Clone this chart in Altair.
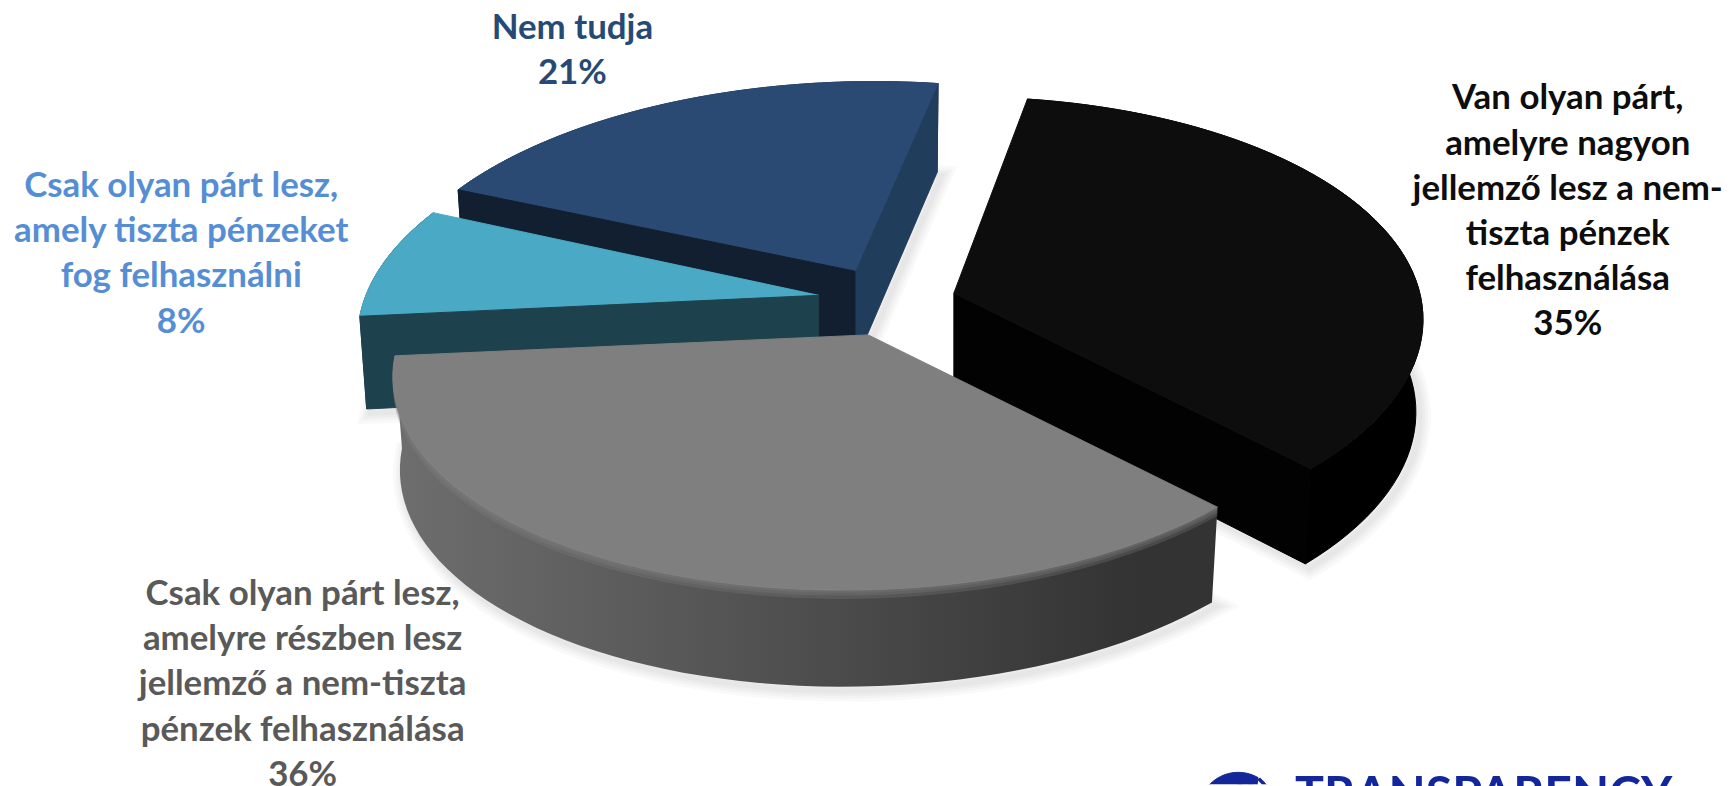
import math
import altair as alt

# ---- chart values ----
categories = [
    "Van olyan párt,\namelyre nagyon\njellemző lesz a nem-\ntiszta pénzek\nfelhasználása",
    "Csak olyan párt lesz,\namelyre részben lesz\njellemző a nem-tiszta\npénzek felhasználása",
    "Csak olyan párt lesz,\namely tiszta pénzeket\nfog felhasználni",
    "Nem tudja",
]
shares = [35, 36, 8, 21]

# ---- styling ----
top_colors = ["#0d0d0d", "#7f7f7f", "#4aa9c4", "#2a4a73"]
text_colors = ["#0d0d0d", "#595959", "#558ed5", "#254a75"]
label_x = [1567, 296, 174, 567]
label_y = [72, 570, 160, 1]
S = 1.104
W, H = 1723, 778
START = 9.0
PERSP, DEPTH = 0.14, 84
tilt = [0.48, 0.47, 0.485, 0.464]
apex = [(868, 265), (790, 303), (745, 267), (778, 245)]
radius = [424, 425, 412, 424]
shear = [10, 20, 20, 20]


def px(x, y):
    return [x * S - 8, y * S - 8]


def pt(i, deg, low=False, drop=None):
    a = math.radians(deg)
    X, Y = math.sin(a), math.cos(a)
    s = 1 / (1 + PERSP * Y)
    k = 0.985 if low else 1.0
    x = apex[i][0] + (radius[i] * X * k + shear[i] * Y) * s
    y = apex[i][1] - radius[i] * tilt[i] * Y * s
    if low:
        y += DEPTH * s ** 0.3
    if drop:
        y += drop
    return px(x, y)


def feature(ring, fill):
    return {"type": "Feature", "properties": {"fill": fill},
            "geometry": {"type": "Polygon", "coordinates": [ring + [ring[0]]]}}


bounds = []
acc = START
for v in shares:
    bounds.append((acc, acc + v * 3.6))
    acc += v * 3.6


def arc(i, low=False, drop=None):
    a, b = bounds[i]
    n = 60
    return [pt(i, a + (b - a) * j / n, low, drop) for j in range(n + 1)]


def top(i):
    return feature([px(*apex[i])] + arc(i), top_colors[i])


def outer(i, fill):
    return feature(arc(i) + arc(i, True)[::-1], fill)


def side(i, edge, fill):
    d = bounds[i][edge]
    c = px(apex[i][0], apex[i][1])
    cl = px(apex[i][0], apex[i][1] + DEPTH)
    return feature([c, pt(i, d), pt(i, d, True), cl], fill)


def shadow(i):
    ring = [px(apex[i][0], apex[i][1] + DEPTH)] + arc(i, True)
    ring = [[x + 4, y + 4] for x, y in ring]
    return feature(ring, "#000000")


def rim(i, drop):
    return feature(arc(i) + arc(i, drop=drop)[::-1], top_colors[i])


PROJ = dict(type="identity", scale=1, translate=[0, 0])


def source(feats):
    return alt.Data(values={"type": "FeatureCollection", "features": feats},
                    format=alt.DataFormat(property="features"))


def shapes(feats):
    return alt.Chart(source(feats)).mark_geoshape(strokeWidth=1).encode(
        fill=alt.Fill("properties.fill:N", scale=None),
        stroke=alt.Stroke("properties.fill:N", scale=None),
    ).project(**PROJ)


gray_grad = alt.Gradient(
    gradient="linear", x1=0, x2=1, y1=0, y2=0,
    stops=[alt.GradientStop(color="#6e6e6e", offset=0),
           alt.GradientStop(color="#535353", offset=0.42),
           alt.GradientStop(color="#333333", offset=0.9),
           alt.GradientStop(color="#333333", offset=1)],
)

shadow_src = source([shadow(0), shadow(2), shadow(3), shadow(1)])
shadow_layers = [
    alt.Chart(shadow_src).mark_geoshape(
        filled=False, stroke="#000000", strokeOpacity=0.022, strokeWidth=w
    ).project(**PROJ)
    for w in (22, 16, 11, 6)
]

gray_wall = alt.Chart(source([outer(1, "#444444")])).mark_geoshape(
    fill=gray_grad, strokeWidth=0
).project(**PROJ)

rim_layers = [
    alt.Chart(source([rim(1, d)])).mark_geoshape(
        fill="#7f7f7f", fillOpacity=0.3, strokeWidth=0
    ).project(**PROJ)
    for d in (2.5, 5, 8)
]

layers = [
    *shadow_layers,
    shapes([outer(3, "#203d5c"), side(3, 1, "#203d5c"), top(3), side(3, 0, "#111f30")]),
    shapes([outer(2, "#1e424d"), top(2), side(2, 0, "#1e424d")]),
    shapes([outer(0, "#000000"), side(0, 1, "#020202"), top(0)]),
    gray_wall,
    *rim_layers,
    shapes([top(1)]),
]

rows = []
for name, v, c, x, y in zip(categories, shares, text_colors, label_x, label_y):
    rows.append({"t": (name + f"\n{v}%"), "c": c, "x": x, "y": y})
labels = alt.Chart(alt.Data(values=rows)).mark_text(
    font="Lato", fontWeight="bold", fontSize=35, lineBreak="\n", lineHeight=45.4,
    align="center", baseline="top",
).encode(
    x=alt.X("x:Q", scale=None), y=alt.Y("y:Q", scale=None),
    text="t:N", color=alt.Color("c:N", scale=None),
)

logo_text = alt.Chart(alt.Data(values=[{"t": "TRANSPARENCY", "x": 1293, "y": 767}])).mark_text(
    font="Lato", fontWeight="bold", fontSize=48.5, align="left", baseline="top",
    color="#14279a",
).encode(x=alt.X("x:Q", scale=None), y=alt.Y("y:Q", scale=None), text="t:N")


# logo globe: a swoosh and a thin arc, both cut by the bottom edge of the picture
def ring_arc(cx, cy, r, a0, a1, n=24):
    return [[cx + r * math.cos(math.radians(a0 + (a1 - a0) * j / n)),
             cy + r * math.sin(math.radians(a0 + (a1 - a0) * j / n))] for j in range(n + 1)]


swoosh = feature(ring_arc(1236, 806, 40, 195, 300) + ring_arc(1243, 812, 34, 290, 205), "#14279a")
thin = feature(ring_arc(1234, 800, 37, 310, 345) + ring_arc(1234, 800, 34, 345, 310), "#14279a")

chart = alt.layer(*layers, shapes([swoosh, thin]), labels, logo_text).properties(
    width=W, height=H, padding=0, background="white",
).configure_view(stroke=None)
chart.save("out.html", embed_options={"renderer": "svg", "actions": False})
